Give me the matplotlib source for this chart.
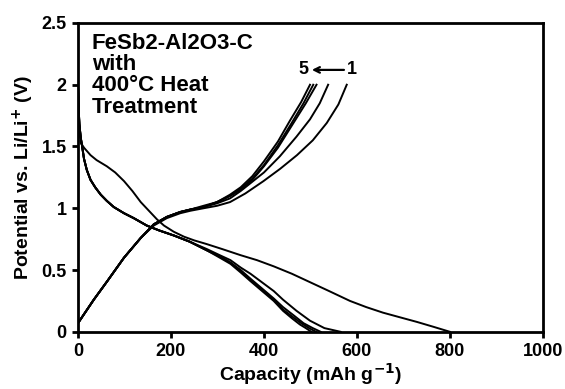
import matplotlib
matplotlib.use("Agg")
import matplotlib.pyplot as plt

plt.rcParams['font.family'] = ['Liberation Sans', 'DejaVu Sans']
plt.rcParams['font.weight'] = 'bold'
plt.rcParams['mathtext.default'] = 'bf'

# discharge curves (capacity in mAh/g, potential in V)
dis1_cap = [0, 1, 3, 6, 13, 20, 27, 40, 62, 80, 99, 117, 135, 150, 170, 185, 206, 228, 250, 277,
            310, 350, 385, 421, 460, 500, 540, 585, 620, 656, 690, 729, 765, 800]
dis1_v = [2.0, 1.85, 1.65, 1.53, 1.49, 1.46, 1.43, 1.39, 1.34, 1.29, 1.22, 1.14, 1.05, 0.99, 0.91, 0.86,
          0.81, 0.77, 0.74, 0.71, 0.67, 0.62, 0.58, 0.53, 0.47, 0.40, 0.33, 0.25, 0.20, 0.155, 0.12, 0.08, 0.04, 0.0]

dis2_cap = [0, 1, 3, 6, 9, 13, 19, 27, 37, 49, 62, 77, 99, 120, 148, 175, 206, 240, 277, 305, 328,
            350, 371, 396, 421, 441, 470, 499, 530, 565]
dis2_v = [2.0, 1.85, 1.68, 1.57, 1.50, 1.40, 1.31, 1.23, 1.17, 1.11, 1.06, 1.01, 0.96, 0.92, 0.86, 0.82,
          0.78, 0.73, 0.67, 0.62, 0.58, 0.52, 0.47, 0.40, 0.33, 0.26, 0.17, 0.09, 0.03, 0.0]

dis3_cap = [0, 1, 3, 6, 9, 13, 19, 27, 37, 49, 62, 77, 99, 120, 148, 175, 206, 240, 277, 305, 328,
            350, 371, 396, 421, 441, 465, 485, 505, 522]
dis3_v = [2.0, 1.85, 1.68, 1.57, 1.50, 1.40, 1.31, 1.23, 1.17, 1.11, 1.06, 1.01, 0.96, 0.92, 0.86, 0.82,
          0.78, 0.73, 0.66, 0.61, 0.56, 0.50, 0.43, 0.35, 0.27, 0.20, 0.13, 0.07, 0.03, 0.0]

dis4_cap = [0, 1, 3, 6, 9, 13, 19, 27, 37, 49, 62, 77, 99, 120, 148, 175, 206, 240, 277, 305, 328,
            350, 371, 396, 421, 441, 462, 480, 497, 512]
dis4_v = [2.0, 1.85, 1.68, 1.57, 1.50, 1.40, 1.31, 1.23, 1.17, 1.11, 1.06, 1.01, 0.96, 0.92, 0.86, 0.82,
          0.78, 0.73, 0.66, 0.61, 0.56, 0.49, 0.42, 0.34, 0.26, 0.18, 0.12, 0.07, 0.03, 0.0]

dis5_cap = [0, 1, 3, 6, 9, 13, 19, 27, 37, 49, 62, 77, 99, 120, 148, 175, 206, 240, 277, 305, 328,
            350, 371, 396, 421, 441, 460, 477, 490, 502]
dis5_v = [2.0, 1.85, 1.68, 1.57, 1.50, 1.40, 1.31, 1.23, 1.17, 1.11, 1.06, 1.01, 0.96, 0.92, 0.86, 0.82,
          0.78, 0.73, 0.66, 0.60, 0.55, 0.48, 0.41, 0.33, 0.25, 0.17, 0.11, 0.06, 0.03, 0.0]

# charge curves
ch1_cap = [0, 34, 63, 99, 135, 163, 191, 220, 242, 270, 299, 327, 360, 399, 435, 471, 505, 535, 560, 578]
ch1_v = [0.07, 0.26, 0.41, 0.60, 0.76, 0.86, 0.92, 0.96, 0.98, 1.00, 1.02, 1.05, 1.12, 1.22, 1.32,
         1.43, 1.55, 1.69, 1.84, 2.0]

ch2_cap = [0, 34, 63, 99, 135, 163, 191, 220, 242, 270, 299, 327, 350, 370, 400, 434, 470, 499, 520, 538]
ch2_v = [0.07, 0.26, 0.41, 0.60, 0.76, 0.87, 0.93, 0.97, 0.99, 1.01, 1.04, 1.08, 1.14, 1.20, 1.29,
         1.42, 1.58, 1.72, 1.85, 2.0]

ch3_cap = [0, 34, 63, 99, 135, 163, 191, 220, 242, 270, 299, 327, 350, 375, 400, 430, 460, 490, 513]
ch3_v = [0.07, 0.26, 0.41, 0.60, 0.76, 0.87, 0.93, 0.97, 0.99, 1.01, 1.05, 1.10, 1.15, 1.23, 1.34,
         1.49, 1.67, 1.85, 2.0]

ch4_cap = [0, 34, 63, 99, 135, 163, 191, 220, 242, 270, 299, 327, 350, 375, 400, 430, 458, 485, 506]
ch4_v = [0.07, 0.26, 0.41, 0.60, 0.76, 0.87, 0.93, 0.97, 0.99, 1.01, 1.05, 1.10, 1.16, 1.24, 1.35,
         1.51, 1.68, 1.85, 2.0]

ch5_cap = [0, 34, 63, 99, 135, 163, 191, 220, 242, 270, 299, 327, 350, 375, 400, 430, 456, 480, 499]
ch5_v = [0.07, 0.26, 0.41, 0.60, 0.76, 0.87, 0.93, 0.97, 0.99, 1.02, 1.05, 1.11, 1.17, 1.26, 1.38,
         1.54, 1.71, 1.86, 2.0]

discharge = [(dis1_cap, dis1_v), (dis2_cap, dis2_v), (dis3_cap, dis3_v), (dis4_cap, dis4_v), (dis5_cap, dis5_v)]
charge = [(ch1_cap, ch1_v), (ch2_cap, ch2_v), (ch3_cap, ch3_v), (ch4_cap, ch4_v), (ch5_cap, ch5_v)]

fig = plt.figure(figsize=(5.65, 3.89), dpi=100)
ax = fig.add_axes([0.138, 0.147, 0.823, 0.794])

for cap, v in discharge + charge:
    ax.plot(cap, v, color='black', lw=1.4, solid_joinstyle='round')

ax.set_xlim(0, 1000)
ax.set_ylim(0, 2.5)
ax.set_xticks([0, 200, 400, 600, 800, 1000])
ax.set_yticks([0, 0.5, 1, 1.5, 2, 2.5])
ax.set_yticklabels(['0', '0.5', '1', '1.5', '2', '2.5'])
ax.tick_params(direction='out', length=4, width=2, labelsize=13, pad=4)
for s in ax.spines.values():
    s.set_linewidth(2)

ax.set_xlabel('Capacity (mAh g$^{-1}$)', fontsize=14, fontweight='bold', labelpad=1)
ax.set_ylabel('Potential vs. Li/Li$^{+}$ (V)', fontsize=14, fontweight='bold', labelpad=4)

ax.text(30, 2.42, 'FeSb2-Al2O3-C\nwith\n400°C Heat\nTreatment', fontsize=16,
        fontweight='bold', va='top', ha='left', linespacing=1.02)

ax.text(484, 2.12, '5', fontsize=13, fontweight='bold', ha='center', va='center')
ax.text(590, 2.12, '1', fontsize=13, fontweight='bold', ha='center', va='center')
ax.annotate('', xy=(497, 2.12), xytext=(578, 2.12),
            arrowprops=dict(arrowstyle='->', color='black', lw=1.6))

fig.savefig('out.png', dpi=100)
